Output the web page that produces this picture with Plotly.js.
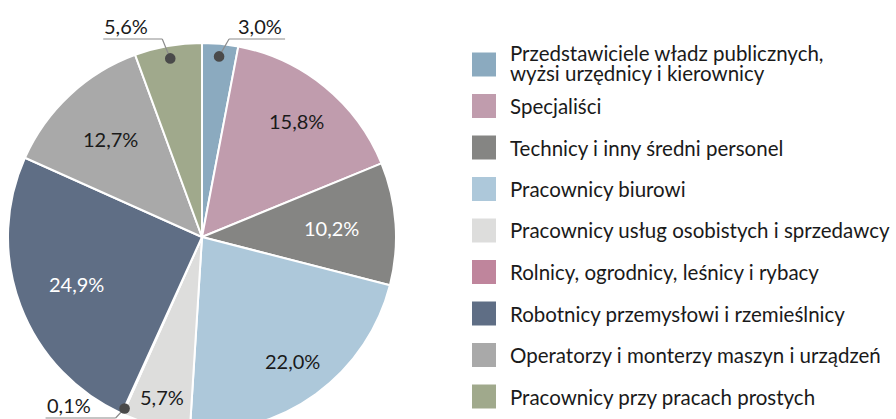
<!DOCTYPE html>
<html>
<head>
<meta charset="utf-8">
<script src="https://cdn.plot.ly/plotly-3.0.1.min.js"></script>
<style>
  html, body { margin: 0; padding: 0; overflow: hidden; background: #fff; }
</style>
</head>
<body>
<div id="chart"></div>
<script>
// Data for the chart
var categories = [
  'Przedstawiciele władz publicznych,\nwyżsi urzędnicy i kierownicy',
  'Specjaliści',
  'Technicy i inny średni personel',
  'Pracownicy biurowi',
  'Pracownicy usług osobistych i sprzedawcy',
  'Rolnicy, ogrodnicy, leśnicy i rybacy',
  'Robotnicy przemysłowi i rzemieślnicy',
  'Operatorzy i monterzy maszyn i urządzeń',
  'Pracownicy przy pracach prostych'
];
var shares = [3.0, 15.8, 10.2, 22.0, 5.7, 0.1, 24.9, 12.7, 5.6];
var colors = ['#8baabf', '#c09cad', '#858583', '#adc8da', '#dddddc',
              '#bf859c', '#5f6e85', '#a9a9a9', '#a0a98c'];

// label placement (style only)
var labelRadius = [0, 0.77, 0.67, 0.79, 0.85, 0, 0.69, 0.69, 0];
var whiteLabel = [2, 6];
// outside labels: slice index, dot radius, elbow dx, line y, line length (sign = direction)
var outside = [
  { i: 0, f: 0.935, dx: 10, y: 39, len: 56 },
  { i: 8, f: 0.935, dx: -8, y: 39, len: -59 },
  { i: 5, f: 0.97, dx: -9, y: 418, len: -70 }
];

var W = 896, H = 440;
var cx = 202, cy = 237, R = 194;
var FONT = 'Lato, "Open Sans", sans-serif';

function px(x) { return x / W; }
function py(y) { return 1 - y / H; }
function fmt(v) { return v.toFixed(1).replace('.', ',') + '%'; }

// mid angle of every slice, clockwise from 12 o'clock
var total = shares.reduce(function (a, b) { return a + b; }, 0);
var mids = [];
var acc = 0;
for (var i = 0; i < shares.length; i++) {
  mids.push(2 * Math.PI * (acc + shares[i] / 2) / total);
  acc += shares[i];
}
function point(i, f) {
  return [cx + f * R * Math.sin(mids[i]), cy - f * R * Math.cos(mids[i])];
}

var annotations = [];
var shapes = [];

// inside labels
for (var i = 0; i < shares.length; i++) {
  if (!labelRadius[i]) continue;
  var p = point(i, labelRadius[i]);
  annotations.push({
    x: px(p[0]), y: py(p[1]), xref: 'paper', yref: 'paper',
    text: fmt(shares[i]), showarrow: false,
    xanchor: 'center', yanchor: 'middle',
    font: { family: FONT, size: 20, color: whiteLabel.indexOf(i) >= 0 ? '#ffffff' : '#1a1a1a' }
  });
}

// outside labels with leader lines and dots
outside.forEach(function (o) {
  var d = point(o.i, o.f);
  var ex = d[0] + o.dx, ey = o.y;
  var endX = ex + o.len;
  shapes.push({ type: 'line', xref: 'paper', yref: 'paper',
    x0: px(d[0]), y0: py(d[1]), x1: px(ex), y1: py(ey),
    line: { color: '#8c8c8c', width: 1.2 } });
  shapes.push({ type: 'line', xref: 'paper', yref: 'paper',
    x0: px(ex), y0: py(ey), x1: px(endX), y1: py(ey),
    line: { color: '#8c8c8c', width: 1.2 } });
  shapes.push({ type: 'circle', xref: 'paper', yref: 'paper',
    x0: px(d[0] - 5.3), y0: py(d[1] + 5.3), x1: px(d[0] + 5.3), y1: py(d[1] - 5.3),
    fillcolor: '#4a4a4a', line: { color: '#4a4a4a', width: 0 } });
  annotations.push({
    x: px(endX - 1), y: py(ey + 1), xref: 'paper', yref: 'paper',
    text: fmt(shares[o.i]), showarrow: false,
    xanchor: o.len > 0 ? 'right' : 'left', yanchor: 'bottom',
    font: { family: FONT, size: 20, color: '#1a1a1a' }
  });
});

// legend drawn by hand so the swatches can be large
var legendY = [64.5];
for (var i = 1; i < categories.length; i++) legendY.push(106 + (i - 1) * 41.5);
for (var i = 0; i < categories.length; i++) {
  shapes.push({ type: 'rect', xref: 'paper', yref: 'paper',
    x0: px(472), x1: px(496), y0: py(legendY[i] - 12), y1: py(legendY[i] + 12),
    fillcolor: colors[i], line: { width: 0 } });
  var lines = categories[i].split('\n');
  for (var k = 0; k < lines.length; k++) {
    var ly = lines.length === 1 ? legendY[i] : legendY[i] - 12 + k * 21;
    annotations.push({
      x: px(508), y: py(ly), xref: 'paper', yref: 'paper',
      text: lines[k], showarrow: false, xanchor: 'left', yanchor: 'middle',
      font: { family: FONT, size: 20.5, color: '#1a1a1a' }
    });
  }
}

var trace = {
  type: 'pie',
  values: shares,
  labels: categories,
  sort: false,
  direction: 'clockwise',
  rotation: 0,
  textinfo: 'none',
  hoverinfo: 'label+percent',
  marker: { colors: colors, line: { color: '#ffffff', width: 2 } },
  domain: { x: [px(cx - R), px(cx + R)], y: [py(cy + R), py(cy - R)] }
};

var layout = {
  width: W,
  height: H,
  margin: { l: 0, r: 0, t: 0, b: 0 },
  showlegend: false,
  paper_bgcolor: '#ffffff',
  annotations: annotations,
  shapes: shapes
};

Plotly.newPlot('chart', [trace], layout, { displayModeBar: false, staticPlot: true });
</script>
</body>
</html>
